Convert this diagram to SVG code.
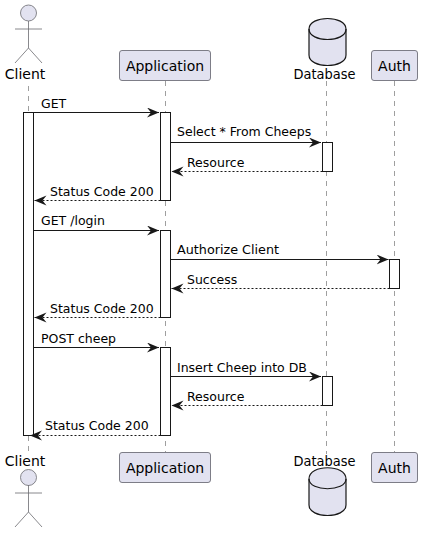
<svg xmlns="http://www.w3.org/2000/svg" width="423" height="533" viewBox="0 0 423 533">
<style>
text{font-family:"DejaVu Sans",sans-serif;fill:#000}
.n{font-size:14px;text-anchor:middle}
.m{font-size:12.5px}
.life{stroke:#181818;stroke-opacity:.6;stroke-width:.7;stroke-dasharray:5 5;fill:none}
.box{fill:#E2E2F0;stroke:#5f5f6a;stroke-width:.8}
.act{fill:#fff;stroke:#181818;stroke-width:1}
.ac{fill:#E2E2F0;stroke:#6b6b70;stroke-width:.8}
.lim{fill:none;stroke:#6b6b70;stroke-width:.8}
.db{fill:#E2E2F0;stroke:#181818;stroke-width:1.2}
.rim{fill:none;stroke:#181818;stroke-width:1.2}
.sync{stroke:#181818;stroke-width:1;fill:none;marker-end:url(#ah)}
.ret{stroke:#181818;stroke-width:1;stroke-dasharray:2 2;fill:none;marker-end:url(#ah)}
</style>
<defs>
<marker id="ah" markerUnits="userSpaceOnUse" markerWidth="14" markerHeight="12" refX="12" refY="5" orient="auto"><path d="M0 0L12 5L0 10L4 5Z" fill="#181818"/></marker>
</defs>
<g id="lifelines">
<line class="life" x1="28.5" y1="86" x2="28.5" y2="453"/>
<line class="life" x1="165.5" y1="81" x2="165.5" y2="452"/>
<line class="life" x1="326.5" y1="81" x2="326.5" y2="454"/>
<line class="life" x1="394.5" y1="81" x2="394.5" y2="452"/>
</g>
<g id="activations">
<rect class="act" x="23.5" y="112.5" width="10" height="323"/>
<rect class="act" x="160.5" y="112.5" width="10" height="88"/>
<rect class="act" x="160.5" y="230.5" width="10" height="87"/>
<rect class="act" x="160.5" y="347.5" width="10" height="88"/>
<rect class="act" x="322.5" y="142.5" width="10" height="29"/>
<rect class="act" x="322.5" y="376.5" width="10" height="29"/>
<rect class="act" x="389.5" y="259.5" width="10" height="29"/>
</g>
<g id="connectors">
<line class="sync" x1="33.5" y1="112.5" x2="159" y2="112.5"/>
<line class="sync" x1="170.5" y1="142.5" x2="321" y2="142.5"/>
<line class="ret" x1="322.5" y1="171.5" x2="171.5" y2="171.5"/>
<line class="ret" x1="160.5" y1="200.5" x2="34.5" y2="200.5"/>
<line class="sync" x1="33.5" y1="230.5" x2="159" y2="230.5"/>
<line class="sync" x1="170.5" y1="259.5" x2="388.5" y2="259.5"/>
<line class="ret" x1="389.5" y1="288.5" x2="171.5" y2="288.5"/>
<line class="ret" x1="160.5" y1="317.5" x2="34.5" y2="317.5"/>
<line class="sync" x1="33.5" y1="347.5" x2="159" y2="347.5"/>
<line class="sync" x1="170.5" y1="376.5" x2="321" y2="376.5"/>
<line class="ret" x1="322.5" y1="405.5" x2="171.5" y2="405.5"/>
<line class="ret" x1="160.5" y1="435.5" x2="30" y2="435.5"/>
</g>
<g id="labels">
<text class="m" x="41" y="108">GET</text>
<text class="m" x="177" y="136">Select * From Cheeps</text>
<text class="m" x="187" y="167">Resource</text>
<text class="m" x="50" y="196">Status Code 200</text>
<text class="m" x="41" y="225">GET /login</text>
<text class="m" x="177" y="254" textLength="102" lengthAdjust="spacingAndGlyphs">Authorize Client</text>
<text class="m" x="187" y="284">Success</text>
<text class="m" x="50" y="313">Status Code 200</text>
<text class="m" x="41" y="343">POST cheep</text>
<text class="m" x="177" y="372">Insert Cheep into DB</text>
<text class="m" x="187" y="401">Resource</text>
<text class="m" x="45" y="430">Status Code 200</text>
</g>
<g id="client-top">
<circle class="ac" cx="28.5" cy="13" r="8"/>
<path class="lim" d="M28.5 21V48M15 29H42M28.5 48L15 63M28.5 48L42 63"/>
<text class="n" x="25" y="79">Client</text>
</g>
<g id="client-bottom">
<text class="n" x="25" y="466">Client</text>
<circle class="ac" cx="28.5" cy="477.5" r="8"/>
<path class="lim" d="M28.5 485V512M15 493H42M28.5 512L15 527M28.5 512L42 527"/>
</g>
<g id="application-top">
<rect class="box" x="119.5" y="50.5" width="91" height="30" rx="2.5"/>
<text class="n" x="165" y="71">Application</text>
</g>
<g id="application-bottom">
<rect class="box" x="119.5" y="452.5" width="91" height="30" rx="2.5"/>
<text class="n" x="165" y="473">Application</text>
</g>
<g id="database-top">
<path class="db" d="M309 29C309 15 346 15 346 29V55C346 69 309 69 309 55Z"/>
<path class="rim" d="M309 29C309 43 346 43 346 29"/>
<text class="n" x="324.5" y="79" textLength="62" lengthAdjust="spacingAndGlyphs">Database</text>
</g>
<g id="database-bottom">
<text class="n" x="324.5" y="466" textLength="62" lengthAdjust="spacingAndGlyphs">Database</text>
<path class="db" d="M309 479C309 464 346 464 346 479V505C346 519 309 519 309 505Z"/>
<path class="rim" d="M309 479C309 492 346 492 346 479"/>
</g>
<g id="auth-top">
<rect class="box" x="371.5" y="50.5" width="46" height="30" rx="2.5"/>
<text class="n" x="394.5" y="71">Auth</text>
</g>
<g id="auth-bottom">
<rect class="box" x="371.5" y="452.5" width="46" height="30" rx="2.5"/>
<text class="n" x="394.5" y="473">Auth</text>
</g>
</svg>
